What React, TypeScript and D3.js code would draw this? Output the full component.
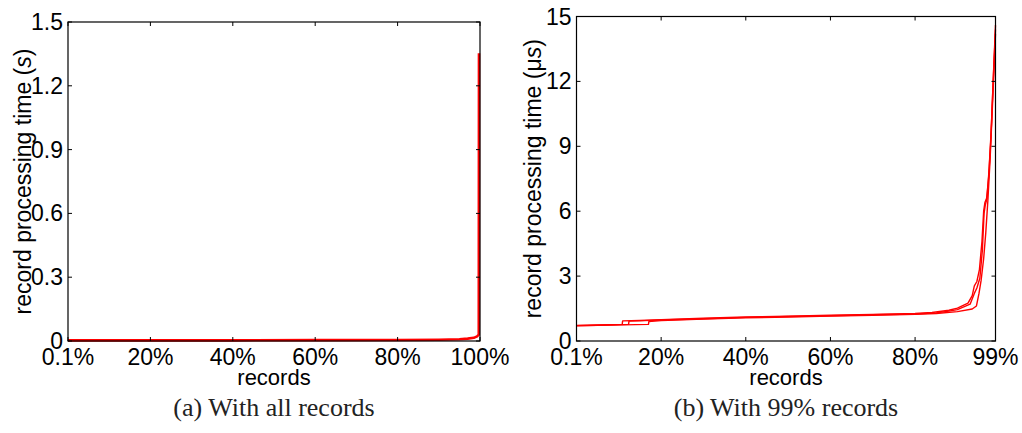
import React from "react";
import * as d3 from "d3";

// ---------- data ----------
const xTicksA = [0, 20, 40, 60, 80, 100];
const xTickLabelsA = ["0.1%", "20%", "40%", "60%", "80%", "100%"];
const yTicksA = [0, 0.3, 0.6, 0.9, 1.2, 1.5];
const yTickLabelsA = ["0", "0.3", "0.6", "0.9", "1.2", "1.5"];

const xTicksB = [0, 20, 40, 60, 80, 99];
const xTickLabelsB = ["0.1%", "20%", "40%", "60%", "80%", "99%"];
const yTicksB = [0, 3, 6, 9, 12, 15];
const yTickLabelsB = ["0", "3", "6", "9", "12", "15"];

// (a) all records, processing time in seconds
const allRecords: [number, number][] = [
  [0, 0.003], [20, 0.003], [40, 0.003], [60, 0.004], [80, 0.005], [90, 0.006],
  [95, 0.008], [97, 0.011], [98.5, 0.015], [99.3, 0.022], [99.7, 0.03], [99.75, 1.353],
];

// (b) 99% of records, processing time in microseconds (three runs)
const run1: [number, number][] = [
  [0, 0.72], [5, 0.74], [10.8, 0.77], [10.9, 0.93], [15, 0.95], [20, 0.99], [30, 1.05],
  [40, 1.11], [50, 1.15], [60, 1.19], [70, 1.23], [80, 1.27], [84, 1.32], [88, 1.42],
  [90, 1.52], [92.5, 1.75], [93.5, 2.1], [94, 2.55], [94.6, 2.75], [95.2, 3.3],
  [95.8, 4.6], [96.2, 6.0], [96.5, 6.4], [96.9, 6.6], [97.4, 7.6], [97.9, 9.3],
  [98.4, 11.8], [99, 14.6],
];
const run2: [number, number][] = [
  [0, 0.71], [5, 0.73], [12.3, 0.77], [12.4, 0.92], [16, 0.94], [20, 0.97], [30, 1.03],
  [40, 1.09], [50, 1.13], [60, 1.17], [70, 1.21], [80, 1.25], [85, 1.3], [88, 1.38],
  [90, 1.45], [93, 1.7], [94, 2.2], [94.6, 2.45], [95.3, 2.9], [95.9, 4.2],
  [96.3, 5.9], [96.6, 6.3], [97.0, 6.6], [97.5, 8.0], [98.0, 9.8], [98.5, 12.2],
  [99, 14.4],
];
const run3: [number, number][] = [
  [0, 0.7], [5, 0.72], [17, 0.77], [17.1, 0.9], [20, 0.94], [30, 1.01], [40, 1.07],
  [50, 1.11], [60, 1.15], [70, 1.19], [80, 1.23], [85, 1.27], [90, 1.36], [93.5, 1.48],
  [94.5, 1.62], [95.1, 2.2], [95.6, 2.8], [96.2, 3.8], [96.7, 5.0], [97.2, 6.5],
  [97.7, 8.3], [98.2, 10.5], [98.7, 12.8], [99, 14.2],
];
const runsB = [run1, run2, run3];

// ---------- layout ----------
const W = 1022;
const H = 433;
const TICK_FONT = "'Liberation Sans', Arial, sans-serif";
const SERIF = "'Liberation Serif', 'Times New Roman', serif";

type PanelProps = {
  left: number; right: number; top: number; bottom: number;
  xDomain: [number, number]; yDomain: [number, number];
  xTicks: number[]; xLabels: string[]; yTicks: number[]; yLabels: string[];
  series: [number, number][][]; strokeWidth: number;
  yTitle: React.ReactNode; yTitleX: number; caption: string;
};

function Panel(p: PanelProps) {
  const x = d3.scaleLinear().domain(p.xDomain).range([p.left, p.right]);
  const y = d3.scaleLinear().domain(p.yDomain).range([p.bottom, p.top]);
  const line = d3.line<[number, number]>().x((d) => x(d[0])).y((d) => y(d[1]));
  const tl = 4;
  const cx = (p.left + p.right) / 2;
  const cy = (p.top + p.bottom) / 2;
  return (
    <g>
      {p.series.map((s, i) => (
        <path key={i} d={line(s) || ""} fill="none" stroke="#ff0000" strokeWidth={p.strokeWidth} strokeLinejoin="round" />
      ))}
      <rect x={p.left} y={p.top} width={p.right - p.left} height={p.bottom - p.top} fill="none" stroke="#000" strokeWidth={1.2} />
      {p.xTicks.map((t, i) => (
        <g key={"x" + i}>
          <line x1={x(t)} x2={x(t)} y1={p.bottom} y2={p.bottom - tl} stroke="#000" strokeWidth={1} />
          <line x1={x(t)} x2={x(t)} y1={p.top} y2={p.top + tl} stroke="#000" strokeWidth={1} />
          <text x={x(t)} y={p.bottom + 24} textAnchor="middle" fontFamily={TICK_FONT} fontSize={23} fill="#000">
            {p.xLabels[i]}
          </text>
        </g>
      ))}
      {p.yTicks.map((t, i) => (
        <g key={"y" + i}>
          <line x1={p.left} x2={p.left + tl} y1={y(t)} y2={y(t)} stroke="#000" strokeWidth={1} />
          <line x1={p.right} x2={p.right - tl} y1={y(t)} y2={y(t)} stroke="#000" strokeWidth={1} />
          <text x={p.left - 5} y={y(t) + 8} textAnchor="end" fontFamily={TICK_FONT} fontSize={23} fill="#000">
            {p.yLabels[i]}
          </text>
        </g>
      ))}
      <text x={cx} y={p.bottom + 44} textAnchor="middle" fontFamily={TICK_FONT} fontSize={22} fill="#000">
        records
      </text>
      <text transform={`translate(${p.yTitleX},${cy}) rotate(-90)`} textAnchor="middle" fontFamily={TICK_FONT} fontSize={23} fill="#000">
        {p.yTitle}
      </text>
      <text x={cx} y={416} textAnchor="middle" fontFamily={SERIF} fontSize={26} fill="#222">
        {p.caption}
      </text>
    </g>
  );
}

export default function App() {
  return (
    <svg width={W} height={H} style={{ position: "absolute", left: 0, top: 0, background: "#fff" }}>
      <rect x={0} y={0} width={W} height={H} fill="#fff" />
      <Panel
        left={68} right={480} top={22} bottom={341}
        xDomain={[0, 100]} yDomain={[0, 1.5]}
        xTicks={xTicksA} xLabels={xTickLabelsA} yTicks={yTicksA} yLabels={yTickLabelsA}
        series={[allRecords]} strokeWidth={2.6}
        yTitle={<>record processing time (<tspan fontStyle="italic">s</tspan>)</>}
        yTitleX={31}
        caption="(a) With all records"
      />
      <Panel
        left={576.5} right={995.5} top={16.5} bottom={341}
        xDomain={[0, 99]} yDomain={[0, 15]}
        xTicks={xTicksB} xLabels={xTickLabelsB} yTicks={yTicksB} yLabels={yTickLabelsB}
        series={runsB} strokeWidth={1.4}
        yTitle={<>record processing time (μ<tspan fontStyle="italic">s</tspan>)</>}
        yTitleX={541}
        caption="(b) With 99% records"
      />
    </svg>
  );
}
